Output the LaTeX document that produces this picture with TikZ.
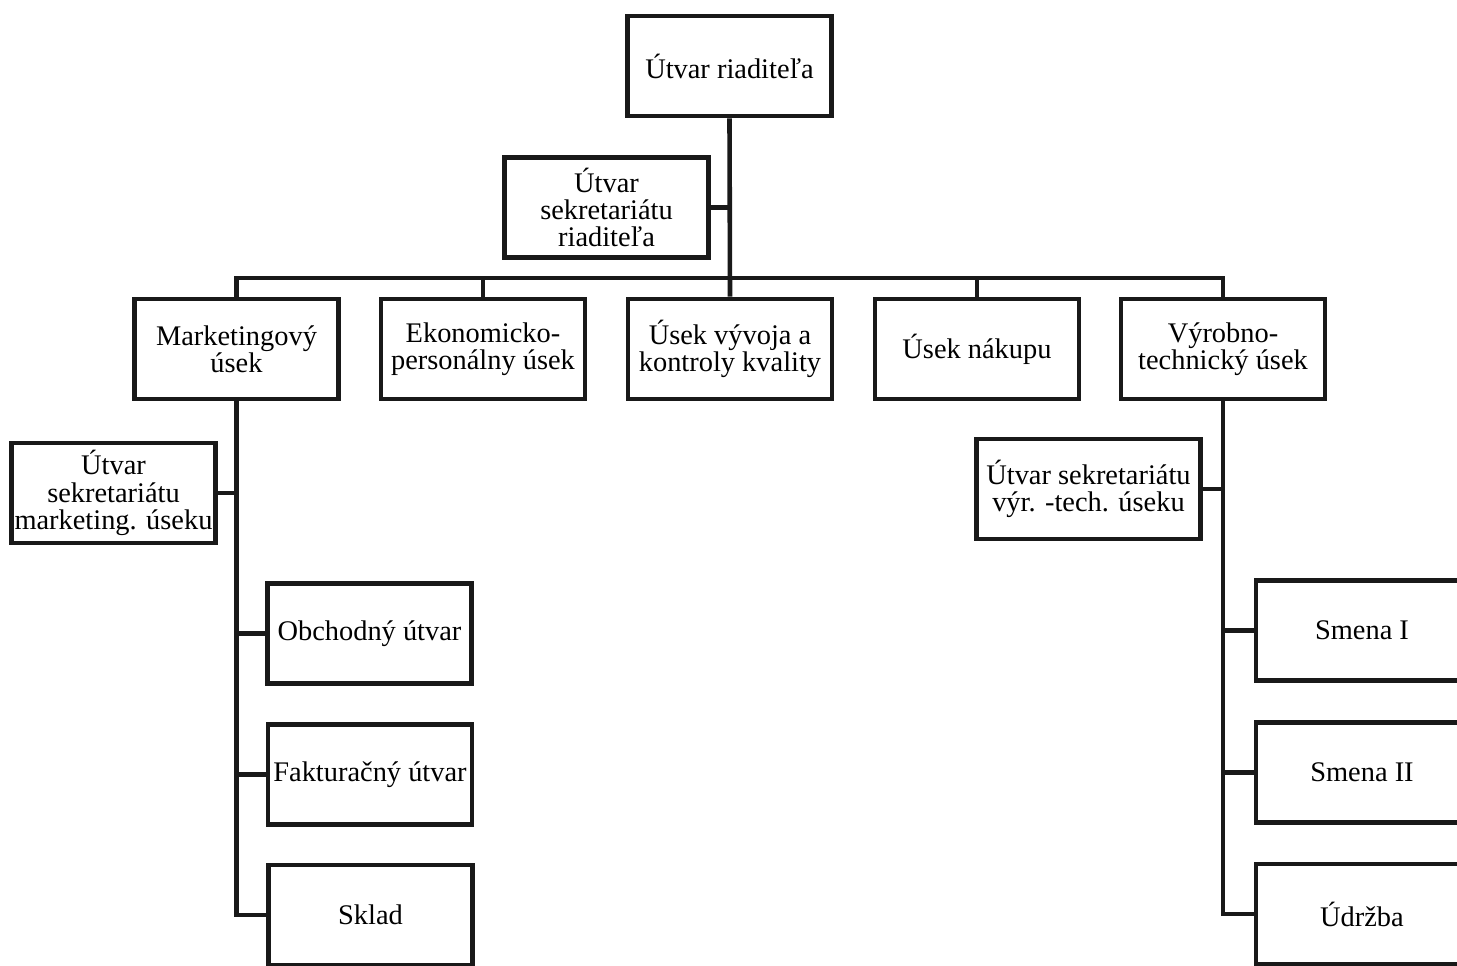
\documentclass[tikz,border=0pt]{standalone}
\usepackage{fontspec}
\setmainfont{Liberation Serif}
\begin{document}
\begin{tikzpicture}[x=0.5pt,y=-0.5pt,
  box/.style={draw=black!90, line width=2.3pt, inner sep=0pt, align=center,
    minimum width=102pt, minimum height=50pt,
    font=\fontsize{14.2}{13.6}\selectfont},
  wire/.style={draw=black!90, line width=2.3pt}]
\useasboundingbox (0,0) rectangle (1457,965);
\fill[white] (0,0) rectangle (1457,965);
% top
\node[box] (top) at (729.5,66) {Útvar riaditeľa};
\node[box] (sekr) at (606.5,207.5) {Útvar\\sekretariátu\\riaditeľa};
% row
\node[box] (mkt) at (236.5,349) {Marketingový\\úsek};
\node[box] (ekon) at (483,349) {Ekonomicko-\\personálny úsek};
\node[box] (vyv) at (730,349) {Úsek vývoja a\\kontroly kvality};
\node[box] (nak) at (977,349) {Úsek nákupu};
\node[box] (vyr) at (1223,349) {Výrobno-\\technický úsek};
\coordinate (bus) at (730,278);
% left branch
\node[box] (smkt) at (113.5,493) {Útvar\\sekretariátu\\marketing. úseku};
\node[box] (obch) at (369.5,633.5) {Obchodný útvar};
\node[box] (fakt) at (370,774.5) {Fakturačný útvar};
\node[box] (sklad) at (370.5,915) {Sklad};
% right branch
\node[box, minimum width=112pt] (svyr) at (1088.5,489) {Útvar sekretariátu\\výr. -tech. úseku};
\node[box, minimum width=106pt] (sm1) at (1362,630.5) {Smena I};
\node[box, minimum width=106pt] (sm2) at (1362,772.5) {Smena II};
\node[box, minimum width=106pt] (udr) at (1362,914) {Údržba};
% connectors
\draw[wire] (top.south) -- (vyv.north);
\draw[wire] (sekr.east) -- (sekr.east -| top.south);
\draw[wire] (mkt.north) |- (vyr.north |- bus) -- (vyr.north);
\draw[wire] (ekon.north) -- (ekon.north |- bus);
\draw[wire] (nak.north) -- (nak.north |- bus);
\draw[wire] (mkt.south) |- (sklad.west);
\draw[wire] (smkt.east) -- (smkt.east -| mkt.south);
\draw[wire] (obch.west) -- (obch.west -| mkt.south);
\draw[wire] (fakt.west) -- (fakt.west -| mkt.south);
\draw[wire] (vyr.south) |- (udr.west);
\draw[wire] (svyr.east) -- (svyr.east -| vyr.south);
\draw[wire] (sm1.west) -- (sm1.west -| vyr.south);
\draw[wire] (sm2.west) -- (sm2.west -| vyr.south);
\end{tikzpicture}
\end{document}
